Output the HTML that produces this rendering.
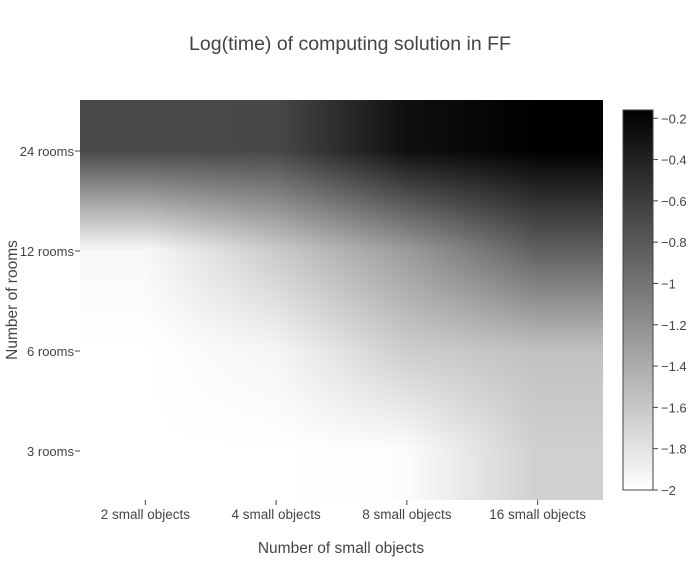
<!DOCTYPE html>
<html><head><meta charset="utf-8"><style>
body{margin:0;background:#fff;font-family:"Liberation Sans",sans-serif;}
#wrap{position:relative;width:700px;height:581px;}
canvas{position:absolute;left:80px;top:100px;}
svg{position:absolute;left:0;top:0;}
text{fill:#444;font-family:"Liberation Sans",sans-serif;}
</style></head><body>
<div id="wrap">
<canvas id="hm" width="523" height="400"></canvas>
<svg id="s" width="700" height="581">
<defs><linearGradient id="cb" x1="0" y1="1" x2="0" y2="0"><stop offset="0" stop-color="#fff"/><stop offset="1" stop-color="#000"/></linearGradient></defs>
<text x="350" y="50" font-size="19.5" text-anchor="middle">Log(time) of computing solution in FF</text>
<text x="341" y="553" font-size="15.5" text-anchor="middle">Number of small objects</text>
<text transform="translate(17,300) rotate(-90)" font-size="15.5" text-anchor="middle">Number of rooms</text>
<rect x="623" y="110" width="30" height="380" fill="url(#cb)" stroke="#444" stroke-width="1"/>
<g id="ax"></g>
</svg>
</div>
<script>
const xCats=["2 small objects","4 small objects","8 small objects","16 small objects"];
const yCats=["3 rooms","6 rooms","12 rooms","24 rooms"];
const row3=[-2.0,-2.0,-1.98,-1.66];
const row6=[-2.0,-1.93,-1.64,-1.55];
const row12=[-1.95,-1.62,-1.28,-0.85];
const row24=[-0.69,-0.68,-0.27,-0.16];
const cbTicks=[-0.2,-0.4,-0.6,-0.8,-1,-1.2,-1.4,-1.6,-1.8,-2];
const zmin=-2.0, zmax=-0.16;
const Z=[row3,row6,row12,row24];
const W=523,H=400,L=80,T=100;
const cw=W/xCats.length, ch=H/yCats.length;
function xPix(i){return L+cw*(i+0.5);}
function yPix(j){return T+H-ch*(j+0.5);}
function cbY(v){return 110+380*(zmax-v)/(zmax-zmin);}
const ctx=document.getElementById('hm').getContext('2d');
const img=ctx.createImageData(W,H);
for(let py=0;py<H;py++){for(let px=0;px<W;px++){
 let fx=(px+0.5)/cw-0.5, fy=(H-py-0.5)/ch-0.5;
 fx=Math.max(0,Math.min(xCats.length-1,fx)); fy=Math.max(0,Math.min(yCats.length-1,fy));
 const i0=Math.min(Math.floor(fx),xCats.length-2), j0=Math.min(Math.floor(fy),yCats.length-2);
 const tx=fx-i0, ty=fy-j0;
 const z=(Z[j0][i0]*(1-tx)+Z[j0][i0+1]*tx)*(1-ty)+(Z[j0+1][i0]*(1-tx)+Z[j0+1][i0+1]*tx)*ty;
 let t=(z-zmin)/(zmax-zmin); t=Math.max(0,Math.min(1,t));
 const g=Math.round(255*(1-t)); const k=(py*W+px)*4;
 img.data[k]=g;img.data[k+1]=g;img.data[k+2]=g;img.data[k+3]=255;}}
ctx.putImageData(img,0,0);
const ax=document.getElementById('ax');const NS="http://www.w3.org/2000/svg";
function mk(tag,attrs,txt){const e=document.createElementNS(NS,tag);for(const k in attrs)e.setAttribute(k,attrs[k]);if(txt!==undefined)e.textContent=txt;ax.appendChild(e);return e;}
xCats.forEach((c,i)=>{const x=xPix(i);
 const l=mk('line',{x1:x,x2:x,y1:500,y2:505,stroke:'#444'});
 
 
 const t=mk('text',{x:x,y:519,'font-size':13.5,'text-anchor':'middle'},c);
 
 });
yCats.forEach((c,j)=>{const y=yPix(j)+1;
 const l=mk('line',{x1:75,x2:80,y1:y,y2:y,stroke:'#444'});
 
 
 const t=mk('text',{x:74,y:y+5,'font-size':13,'text-anchor':'end'},c);
 
 });
cbTicks.forEach(v=>{const y=cbY(v);
 const l=mk('line',{x1:653,x2:658,y1:y,y2:y,stroke:'#444'});
 
 
 const t=mk('text',{x:661,y:y+5,'font-size':13},String(v).replace('-','−'));
 
 });
</script>
</body></html>
